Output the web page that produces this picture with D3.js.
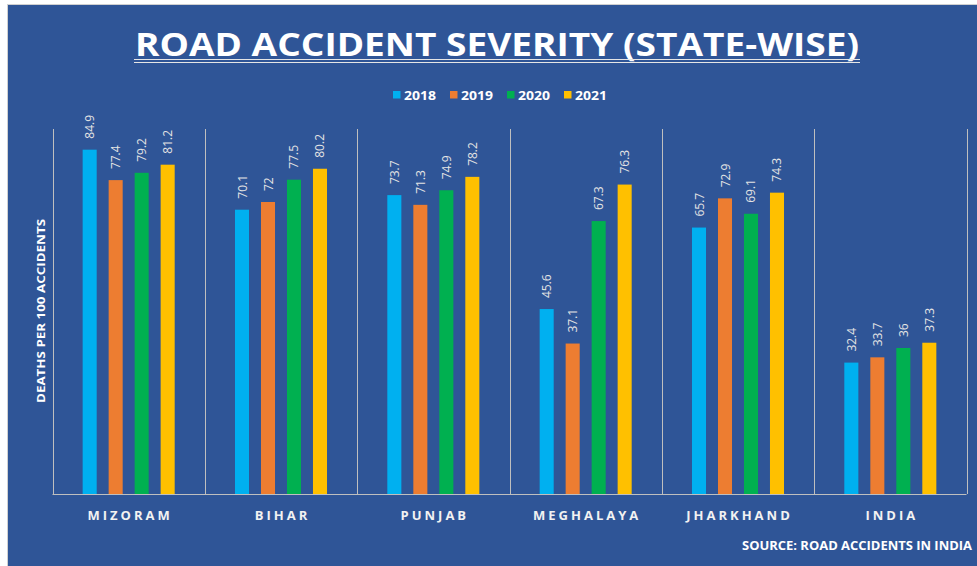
<!DOCTYPE html>
<html>
<head>
<meta charset="utf-8">
<script src="https://cdn.jsdelivr.net/npm/d3@7"></script>
<style>
  body { margin: 0; background: #fff; }
  text { font-family: "Open Sans", "Noto Sans", sans-serif; }
</style>
</head>
<body>
<div id="container"></div>
<script>
    // data
    let states = ['MIZORAM', 'BIHAR', 'PUNJAB', 'MEGHALAYA', 'JHARKHAND', 'INDIA'];
    let years = ['2018', '2019', '2020', '2021'];
    let v2018 = [84.9, 70.1, 73.7, 45.6, 65.7, 32.4];
    let v2019 = [77.4, 72, 71.3, 37.1, 72.9, 33.7];
    let v2020 = [79.2, 77.5, 74.9, 67.3, 69.1, 36];
    let v2021 = [81.2, 80.2, 78.2, 76.3, 74.3, 37.3];
    let yTicks = [0, 90];

    let colors = ['#00B0F0', '#ED7D31', '#00B050', '#FFC000'];
    let series = [v2018, v2019, v2020, v2021];

    let svgAttr = {width: 977, height: 566};
    let plot = {left: 52.5, right: 966.5, top: 129, bottom: 494};
    let grid = '#BFBFBF';

    let svg = d3.select('#container').append('svg')
        .attr('width', svgAttr.width).attr('height', svgAttr.height);

    // background
    svg.append('rect').attr('x', 7.5).attr('y', 4.5)
        .attr('width', 990).attr('height', 580)
        .attr('fill', '#2F5597').attr('stroke', '#D0D0D0');

    // scales
    let x0 = d3.scaleBand().domain(states).range([plot.left, plot.right]);
    let x1 = d3.scaleBand().domain(years).range([0, x0.bandwidth()])
        .paddingInner(0.46).paddingOuter(1.16);
    let yScale = d3.scaleLinear().domain(d3.extent(yTicks)).range([plot.bottom, plot.top]);

    // title
    svg.append('text').attr('x', 497).attr('y', 56).attr('text-anchor', 'middle')
        .attr('font-size', 32).attr('font-weight', 'bold').attr('fill', '#fff')
        .attr('textLength', 724).attr('lengthAdjust', 'spacingAndGlyphs')
        .text('ROAD ACCIDENT SEVERITY (STATE-WISE)');
    [59.5, 62.5].forEach(function (yy) {
        svg.append('line').attr('x1', 134).attr('x2', 860).attr('y1', yy).attr('y2', yy)
            .attr('stroke', '#E6E6E6').attr('stroke-width', 1.2);
    });

    // legend
    let legend = svg.append('g');
    years.forEach(function (yr, i) {
        let lx = 393 + i * 57;
        legend.append('rect').attr('x', lx).attr('y', 91).attr('width', 7.5).attr('height', 7.5)
            .attr('fill', colors[i]);
        legend.append('text').attr('x', lx + 11).attr('y', 99.5)
            .attr('font-size', 12.5).attr('font-weight', 'bold').attr('fill', '#fff')
            .attr('textLength', 32).attr('lengthAdjust', 'spacingAndGlyphs')
            .text(yr);
    });

    // gridlines between categories
    let edges = states.map(function (s) { return x0(s); }).concat([plot.right]);
    svg.append('g').selectAll('line').data(edges).enter().append('line')
        .attr('x1', function (d) { return Math.round(d) + 0.5; })
        .attr('x2', function (d) { return Math.round(d) + 0.5; })
        .attr('y1', plot.top).attr('y2', plot.bottom)
        .attr('stroke', grid).attr('stroke-width', 1);

    // bars
    let groups = svg.append('g').selectAll('g').data(states).enter().append('g')
        .attr('transform', function (d) { return 'translate(' + x0(d) + ',0)'; });

    groups.selectAll('rect').data(function (d, i) {
        return years.map(function (yr, j) { return {year: yr, value: series[j][i], c: colors[j]}; });
    }).enter().append('rect')
        .attr('x', function (d) { return x1(d.year); })
        .attr('y', function (d) { return yScale(d.value); })
        .attr('width', x1.bandwidth())
        .attr('height', function (d) { return plot.bottom - yScale(d.value); })
        .attr('fill', function (d) { return d.c; });

    // value labels, rotated
    groups.selectAll('text').data(function (d, i) {
        return years.map(function (yr, j) { return {year: yr, value: series[j][i]}; });
    }).enter().append('text')
        .attr('transform', function (d) {
            let cx = x1(d.year) + x1.bandwidth() / 2 + 4.5;
            let cy = yScale(d.value) - 11;
            return 'translate(' + cx + ',' + cy + ') rotate(-90)';
        })
        .attr('font-size', 12).attr('fill', '#E4E4E4')
        .text(function (d) { return d.value; });

    // x axis line
    svg.append('line').attr('x1', plot.left).attr('x2', plot.right)
        .attr('y1', plot.bottom + 0.5).attr('y2', plot.bottom + 0.5)
        .attr('stroke', grid).attr('stroke-width', 1);

    // category labels
    svg.append('g').selectAll('text').data(states).enter().append('text')
        .attr('x', function (d) { return x0(d) + x0.bandwidth() / 2 + 1.5; })
        .attr('y', 520).attr('text-anchor', 'middle')
        .attr('font-size', 13).attr('font-weight', 'bold').attr('letter-spacing', 3)
        .attr('fill', '#F2F2F2')
        .text(function (d) { return d; });

    // y axis title
    svg.append('text').attr('transform', 'translate(45,311) rotate(-90)')
        .attr('text-anchor', 'middle').attr('font-size', 11).attr('font-weight', 'bold')
        .attr('fill', '#fff').attr('textLength', 184).attr('lengthAdjust', 'spacingAndGlyphs')
        .text('DEATHS PER 100 ACCIDENTS');

    // source (kept inside the frame)
    svg.append('text').attr('x', 742).attr('y', 550)
        .attr('font-size', 12.5).attr('font-weight', 'bold').attr('fill', '#fff')
        .attr('textLength', 230).attr('lengthAdjust', 'spacingAndGlyphs')
        .text('SOURCE: ROAD ACCIDENTS IN INDIA');
</script>
</body>
</html>
